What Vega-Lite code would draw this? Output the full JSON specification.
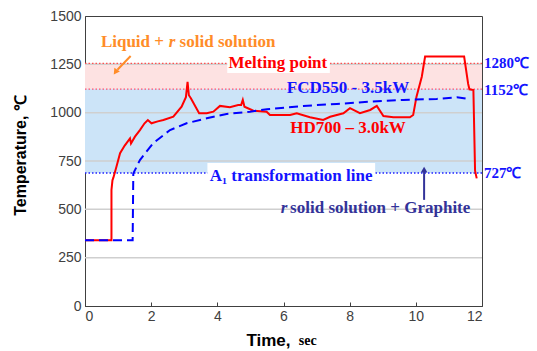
{
  "$schema": "https://vega.github.io/schema/vega-lite/v6.json",
  "width": 397,
  "height": 290,
  "autosize": {"type": "none"},
  "padding": {"left": 85, "top": 16, "right": 55, "bottom": 45},
  "background": "white",
  "config": {
    "view": {"stroke": "#404040", "strokeWidth": 1},
    "axis": {"labelFont": "Liberation Sans", "labelFontSize": 14, "labelColor": "#404040", "titleFont": "Liberation Sans", "titleColor": "#000000", "titleFontSize": 16, "titleFontWeight": "bold", "grid": false, "domainColor": "#404040", "format": "d"},
    "text": {"font": "Liberation Serif", "fontWeight": "bold", "baseline": "middle", "fontSize": 17}
  },
  "resolve": {"scale": {"color": "independent"}},
  "datasets": {
    "curves": [
      {"t": 0, "T": 340, "s": "HD700"}, {"t": 0.80, "T": 340, "s": "HD700"}, {"t": 0.80, "T": 600, "s": "HD700"}, {"t": 0.83, "T": 650, "s": "HD700"}, {"t": 0.86, "T": 665, "s": "HD700"}, {"t": 0.95, "T": 720, "s": "HD700"}, {"t": 1.06, "T": 790, "s": "HD700"}, {"t": 1.2, "T": 830, "s": "HD700"}, {"t": 1.36, "T": 867, "s": "HD700"}, {"t": 1.39, "T": 841, "s": "HD700"}, {"t": 1.51, "T": 876, "s": "HD700"}, {"t": 1.66, "T": 910, "s": "HD700"}, {"t": 1.80, "T": 945, "s": "HD700"}, {"t": 1.90, "T": 962, "s": "HD700"}, {"t": 2.01, "T": 945, "s": "HD700"}, {"t": 2.2, "T": 955, "s": "HD700"}, {"t": 2.37, "T": 962, "s": "HD700"}, {"t": 2.67, "T": 979, "s": "HD700"}, {"t": 2.92, "T": 1031, "s": "HD700"}, {"t": 3.05, "T": 1080, "s": "HD700"}, {"t": 3.10, "T": 1160, "s": "HD700"}, {"t": 3.14, "T": 1090, "s": "HD700"}, {"t": 3.20, "T": 1075, "s": "HD700"}, {"t": 3.45, "T": 997, "s": "HD700"}, {"t": 3.68, "T": 997, "s": "HD700"}, {"t": 3.88, "T": 1005, "s": "HD700"}, {"t": 4.08, "T": 1035, "s": "HD700"}, {"t": 4.38, "T": 1028, "s": "HD700"}, {"t": 4.63, "T": 1040, "s": "HD700"}, {"t": 4.72, "T": 1040, "s": "HD700"}, {"t": 4.77, "T": 1066, "s": "HD700"}, {"t": 4.82, "T": 1031, "s": "HD700"}, {"t": 5.09, "T": 1010, "s": "HD700"}, {"t": 5.49, "T": 1005, "s": "HD700"}, {"t": 5.59, "T": 988, "s": "HD700"}, {"t": 6.20, "T": 988, "s": "HD700"}, {"t": 6.40, "T": 997, "s": "HD700"}, {"t": 6.80, "T": 976, "s": "HD700"}, {"t": 7.20, "T": 962, "s": "HD700"}, {"t": 7.41, "T": 979, "s": "HD700"}, {"t": 7.81, "T": 997, "s": "HD700"}, {"t": 8.01, "T": 1023, "s": "HD700"}, {"t": 8.31, "T": 997, "s": "HD700"}, {"t": 8.62, "T": 1014, "s": "HD700"}, {"t": 8.82, "T": 1035, "s": "HD700"}, {"t": 9.02, "T": 983, "s": "HD700"}, {"t": 9.32, "T": 976, "s": "HD700"}, {"t": 9.82, "T": 976, "s": "HD700"}, {"t": 9.92, "T": 988, "s": "HD700"}, {"t": 10.02, "T": 1083, "s": "HD700"}, {"t": 10.18, "T": 1186, "s": "HD700"}, {"t": 10.28, "T": 1290, "s": "HD700"}, {"t": 11.46, "T": 1290, "s": "HD700"}, {"t": 11.58, "T": 1150, "s": "HD700"}, {"t": 11.62, "T": 1121, "s": "HD700"}, {"t": 11.74, "T": 1117, "s": "HD700"}, {"t": 11.79, "T": 700, "s": "HD700"}, {"t": 11.84, "T": 660, "s": "HD700"},
      {"t": 0, "T": 340, "s": "FCD550"}, {"t": 1.44, "T": 340, "s": "FCD550"}, {"t": 1.46, "T": 686, "s": "FCD550"}, {"t": 1.66, "T": 755, "s": "FCD550"}, {"t": 2.06, "T": 842, "s": "FCD550"}, {"t": 2.57, "T": 910, "s": "FCD550"}, {"t": 3.07, "T": 945, "s": "FCD550"}, {"t": 3.68, "T": 971, "s": "FCD550"}, {"t": 4.28, "T": 993, "s": "FCD550"}, {"t": 4.99, "T": 1005, "s": "FCD550"}, {"t": 5.5, "T": 1018, "s": "FCD550"}, {"t": 6.60, "T": 1035, "s": "FCD550"}, {"t": 7.61, "T": 1045, "s": "FCD550"}, {"t": 8.62, "T": 1057, "s": "FCD550"}, {"t": 9.62, "T": 1066, "s": "FCD550"}, {"t": 10.63, "T": 1071, "s": "FCD550"}, {"t": 11.24, "T": 1080, "s": "FCD550"}, {"t": 11.64, "T": 1069, "s": "FCD550"}
    ]
  },
  "encoding": {
    "x": {"type": "quantitative", "scale": {"domain": [0, 12], "nice": false}},
    "y": {"type": "quantitative", "scale": {"domain": [0, 1500], "nice": false}}
  },
  "layer": [
    {
      "data": {"values": [{"x1": 0, "x2": 12, "y1": 1122, "y2": 1255, "zone": "liquid"}, {"x1": 0, "x2": 12, "y1": 688, "y2": 1122, "zone": "solid"}]},
      "mark": {"type": "rect"},
      "encoding": {
        "x": {"field": "x1", "type": "quantitative", "axis": {"values": [0,1,2,3,4,5,6,7,8,9,10,11,12], "tickSize": -4, "tickColor": "#404040", "labelPadding": 7, "title": "Time,", "titleX": 183, "titleY": 34, "titleBaseline": "middle", "titleFontSize": 17}},
        "x2": {"field": "x2"},
        "y": {"field": "y1", "type": "quantitative", "axis": {"values": [0,250,500,750,1000,1250,1500], "ticks": false, "labelPadding": 4, "title": "Temperature, ℃", "titleX": -57, "titleY": 139}},
        "y2": {"field": "y2"},
        "color": {"field": "zone", "type": "nominal", "scale": {"domain": ["liquid", "solid"], "range": ["#fde2e2", "#cce4f8"]}, "legend": null}
      }
    },
    {
      "data": {"values": [{"g": 250}, {"g": 500}, {"g": 750}, {"g": 1000}, {"g": 1250}]},
      "mark": {"type": "rule", "color": "#cfcfcf", "strokeWidth": 1.5},
      "encoding": {"y": {"field": "g", "type": "quantitative"}}
    },
    {
      "data": {"values": [{"v": 1255, "k": "melt"}, {"v": 1122, "k": "melt2"}, {"v": 688, "k": "a1"}]},
      "mark": {"type": "rule", "strokeDash": [1.5, 2], "strokeWidth": 1.3},
      "encoding": {
        "y": {"field": "v", "type": "quantitative"},
        "color": {"field": "k", "type": "nominal", "scale": {"domain": ["melt", "melt2", "a1"], "range": ["#ff5050", "#ff5070", "#2020ff"]}, "legend": null}
      }
    },
    {
      "data": {"values": [{"x1": 4.3, "x2": 7.4, "y1": 1205, "y2": 1310}, {"x1": 3.7, "x2": 8.77, "y1": 610, "y2": 740}]},
      "mark": {"type": "rect", "color": "white"},
      "encoding": {"x": {"field": "x1", "type": "quantitative"}, "x2": {"field": "x2"}, "y": {"field": "y1", "type": "quantitative"}, "y2": {"field": "y2"}}
    },
    {
      "data": {"name": "curves"},
      "transform": [{"filter": "datum.s === 'HD700'"}],
      "mark": {"type": "line", "color": "#ff0000", "strokeWidth": 2},
      "encoding": {"x": {"field": "t", "type": "quantitative"}, "y": {"field": "T", "type": "quantitative"}}
    },
    {
      "data": {"name": "curves"},
      "transform": [{"filter": "datum.s === 'FCD550'"}],
      "mark": {"type": "line", "color": "#0000ff", "strokeWidth": 2, "strokeDash": [9, 5]},
      "encoding": {"x": {"field": "t", "type": "quantitative"}, "y": {"field": "T", "type": "quantitative"}}
    },
    {
      "data": {"values": [{"x1": 1.38, "y1": 1293, "x2": 0.98, "y2": 1222}]},
      "mark": {"type": "rule", "strokeWidth": 2, "color": "#ff8c28"},
      "encoding": {"x": {"field": "x1", "type": "quantitative"}, "y": {"field": "y1", "type": "quantitative"}, "x2": {"field": "x2"}, "y2": {"field": "y2"}}
    },
    {
      "data": {"values": [{"x1": 10.25, "y1": 549, "x2": 10.25, "y2": 695}]},
      "mark": {"type": "rule", "strokeWidth": 2, "color": "#333399"},
      "encoding": {"x": {"field": "x1", "type": "quantitative"}, "y": {"field": "y1", "type": "quantitative"}, "x2": {"field": "x2"}, "y2": {"field": "y2"}}
    },
    {
      "data": {"values": [{"x": 0.92, "y": 1210, "a": 215}]},
      "mark": {"type": "point", "shape": "triangle-up", "filled": true, "size": 45, "opacity": 1, "color": "#ff8c28"},
      "encoding": {"x": {"field": "x", "type": "quantitative"}, "y": {"field": "y", "type": "quantitative"}, "angle": {"field": "a", "type": "quantitative", "scale": null}}
    },
    {
      "data": {"values": [{"x": 10.25, "y": 705, "a": 0}]},
      "mark": {"type": "point", "shape": "triangle-up", "filled": true, "size": 45, "opacity": 1, "color": "#333399"},
      "encoding": {"x": {"field": "x", "type": "quantitative"}, "y": {"field": "y", "type": "quantitative"}, "angle": {"field": "a", "type": "quantitative", "scale": null}}
    },
    {
      "data": {"values": [
        {"x": 5.83, "y": 1258, "txt": "Melting point", "c": "red"},
        {"x": 7.95, "y": 1128, "txt": "FCD550 - 3.5kW", "c": "blue"},
        {"x": 7.95, "y": 921, "txt": "HD700 – 3.0kW", "c": "red"},
        {"x": 6.23, "y": 672, "txt": "A₁ transformation line", "c": "blue"}
      ]},
      "mark": {"type": "text", "align": "center"},
      "encoding": {
        "x": {"field": "x", "type": "quantitative"}, "y": {"field": "y", "type": "quantitative"},
        "text": {"field": "txt"},
        "color": {"field": "c", "type": "nominal", "scale": {"domain": ["red", "blue"], "range": ["#ff0000", "#1414ff"]}, "legend": null}
      }
    },
    {
      "data": {"values": [{"x": 0.48, "y": 1366, "txt": "Liquid +"}, {"x": 2.86, "y": 1366, "txt": "solid solution"}]},
      "mark": {"type": "text", "align": "left", "color": "#ff8c28"},
      "encoding": {"x": {"field": "x", "type": "quantitative"}, "y": {"field": "y", "type": "quantitative"}, "text": {"field": "txt"}}
    },
    {
      "data": {"values": [{"x": 2.63, "y": 1366, "txt": "r"}]},
      "mark": {"type": "text", "align": "center", "color": "#ff8c28", "fontStyle": "italic"},
      "encoding": {"x": {"field": "x", "type": "quantitative"}, "y": {"field": "y", "type": "quantitative"}, "text": {"field": "txt"}}
    },
    {
      "data": {"values": [{"x": 6.2, "y": 507, "txt": "solid solution + Graphite"}]},
      "mark": {"type": "text", "align": "left", "color": "#333399"},
      "encoding": {"x": {"field": "x", "type": "quantitative"}, "y": {"field": "y", "type": "quantitative"}, "text": {"field": "txt"}}
    },
    {
      "data": {"values": [{"x": 6.02, "y": 507, "txt": "r"}]},
      "mark": {"type": "text", "align": "center", "color": "#333399", "fontStyle": "italic"},
      "encoding": {"x": {"field": "x", "type": "quantitative"}, "y": {"field": "y", "type": "quantitative"}, "text": {"field": "txt"}}
    },
    {
      "data": {"values": [{"x": 12.06, "y": 1257, "txt": "1280℃"}, {"x": 12.06, "y": 1117, "txt": "1152℃"}, {"x": 12.06, "y": 688, "txt": "727℃"}]},
      "mark": {"type": "text", "align": "left", "color": "#1414ff", "fontSize": 15},
      "encoding": {"x": {"field": "x", "type": "quantitative"}, "y": {"field": "y", "type": "quantitative"}, "text": {"field": "txt"}}
    },
    {
      "data": {"values": [{"x": 6.73, "y": -181, "txt": "sec"}]},
      "mark": {"type": "text", "fontSize": 14, "color": "#000000"},
      "encoding": {"x": {"field": "x", "type": "quantitative"}, "y": {"field": "y", "type": "quantitative"}, "text": {"field": "txt"}}
    }
  ]
}
